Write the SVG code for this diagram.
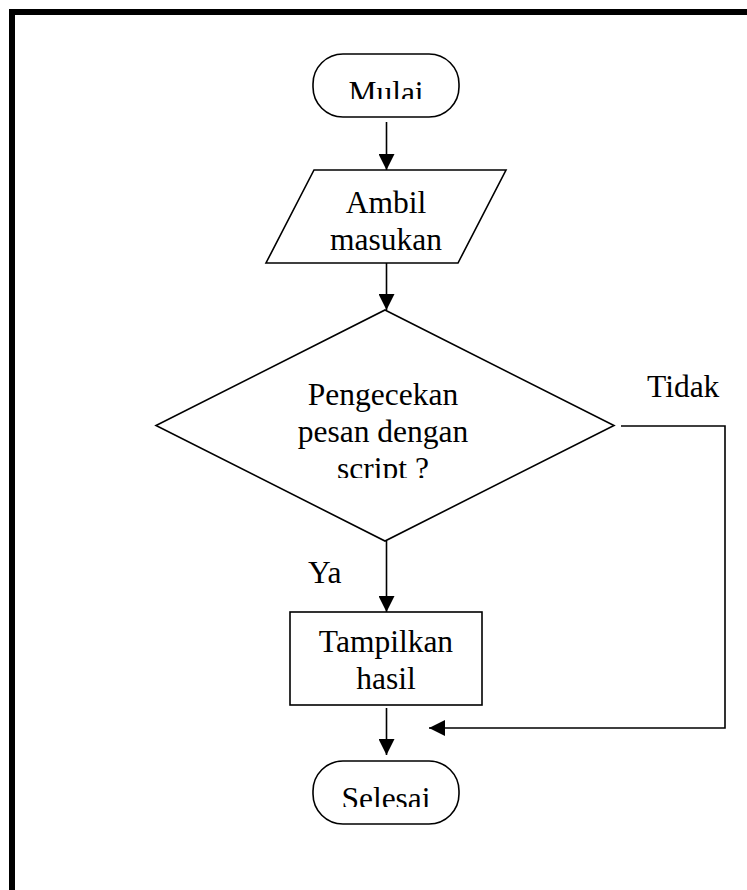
<svg xmlns="http://www.w3.org/2000/svg" width="747" height="890" viewBox="0 0 747 890">
  <style>
    .shape { fill: #ffffff; stroke: #000000; stroke-width: 1.6; }
    .wire { fill: none; stroke: #000000; stroke-width: 1.6; }
    .lbl { font-family: "Liberation Serif", "Times New Roman", serif; font-size: 31.5px; fill: #000000; text-anchor: middle; }
    .side { font-family: "Liberation Serif", "Times New Roman", serif; font-size: 31.5px; fill: #000000; }
  </style>
  <defs>
    <marker id="arrow" markerUnits="userSpaceOnUse" markerWidth="16" markerHeight="16" viewBox="0 0 16 16" refX="16" refY="8" orient="auto">
      <path d="M0,0 L16,8 L0,16 Z" fill="#000000"/>
    </marker>
    <!-- text boxes crop the bottom of their last line -->
    <clipPath id="clipStart"><rect x="300" y="60" width="170" height="39"/></clipPath>
    <clipPath id="clipCheck"><rect x="200" y="320" width="370" height="158"/></clipPath>
    <clipPath id="clipEnd"><rect x="300" y="765" width="170" height="42"/></clipPath>
  </defs>

  <rect width="747" height="890" fill="#ffffff"/>

  <!-- page frame (top and left edges) -->
  <g id="frame">
    <rect x="9" y="9" width="738" height="6" fill="#000000"/>
    <rect x="9" y="9" width="6" height="881" fill="#000000"/>
  </g>

  <g id="connectors">
    <line class="wire" x1="386.5" y1="122" x2="386.5" y2="170" marker-end="url(#arrow)"/>
    <line class="wire" x1="386.5" y1="263" x2="386.5" y2="310" marker-end="url(#arrow)"/>
    <line class="wire" x1="386.5" y1="541" x2="386.5" y2="612" marker-end="url(#arrow)"/>
    <line class="wire" x1="386.5" y1="708" x2="386.5" y2="755" marker-end="url(#arrow)"/>
    <polyline class="wire" points="621,426 725,426 725,728 429,728" marker-end="url(#arrow)"/>
    <text class="side" x="647" y="397">Tidak</text>
    <text class="side" x="308" y="583">Ya</text>
  </g>

  <g id="start">
    <rect class="shape" x="313" y="54" width="146" height="63" rx="30" ry="30"/>
    <text class="lbl" x="386" y="103" clip-path="url(#clipStart)">Mulai</text>
  </g>

  <g id="input">
    <polygon class="shape" points="314,170 506,170 458,263 266,263"/>
    <text class="lbl" x="386" y="213">Ambil</text>
    <text class="lbl" x="386" y="250">masukan</text>
  </g>

  <g id="check">
    <polygon class="shape" points="385,310 614,425.5 385,541 156,425.5"/>
    <text class="lbl" x="383" y="405">Pengecekan</text>
    <text class="lbl" x="383" y="442">pesan dengan</text>
    <text class="lbl" x="383" y="479" clip-path="url(#clipCheck)">script ?</text>
  </g>

  <g id="output">
    <rect class="shape" x="290" y="612" width="192" height="93"/>
    <text class="lbl" x="386" y="652">Tampilkan</text>
    <text class="lbl" x="386" y="689">hasil</text>
  </g>

  <g id="end">
    <rect class="shape" x="313" y="761" width="146" height="63" rx="30" ry="30"/>
    <text class="lbl" x="386" y="809" clip-path="url(#clipEnd)">Selesai</text>
  </g>
</svg>
